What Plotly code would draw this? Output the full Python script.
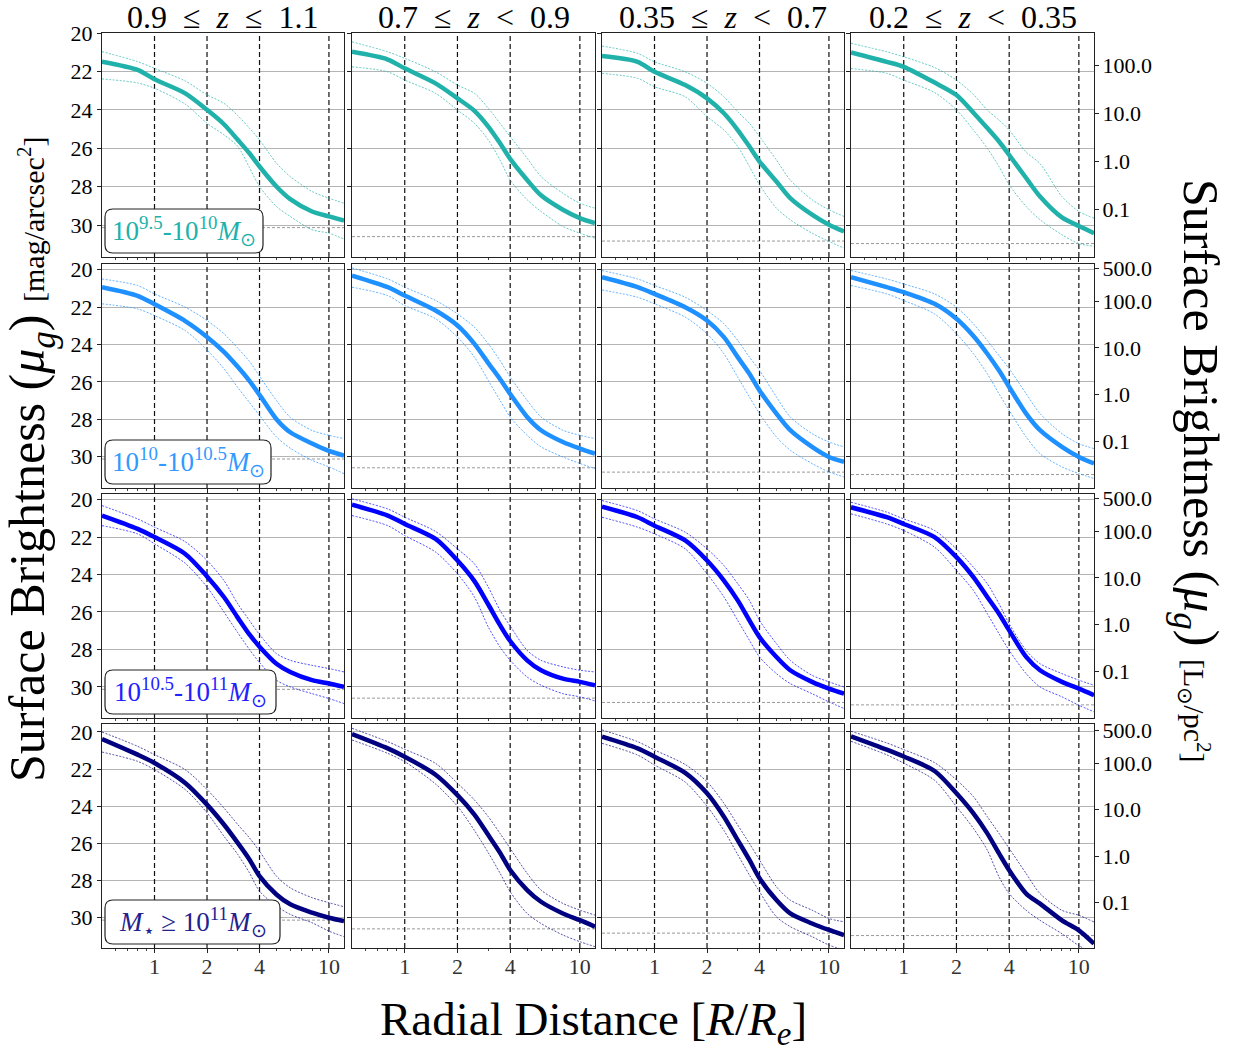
import math
import plotly.graph_objects as go

# ---------------- data ----------------
R = [0.5, 0.8, 1, 1.5, 2, 2.5, 3, 3.5, 4, 5, 6, 8, 10, 12.2]

SP = "\u2002"
COL_TITLES = ["0.9" + SP + "≤" + SP + "<i>z</i>" + SP + "≤" + SP + "1.1",
              "0.7" + SP + "≤" + SP + "<i>z</i>" + SP + "<" + SP + "0.9",
              "0.35" + SP + "≤" + SP + "<i>z</i>" + SP + "<" + SP + "0.7",
              "0.2" + SP + "≤" + SP + "<i>z</i>" + SP + "<" + SP + "0.35"]
ROW_LABELS = ["10<sup>9.5</sup>-10<sup>10</sup><i>M</i><sub>⊙</sub>",
              "10<sup>10</sup>-10<sup>10.5</sup><i>M</i><sub>⊙</sub>",
              "10<sup>10.5</sup>-10<sup>11</sup><i>M</i><sub>⊙</sub>",
              "<i>M</i><sub>⋆</sub> ≥ 10<sup>11</sup><i>M</i><sub>⊙</sub>"]
ROW_COLORS = ["#20b2aa", "#1e90ff", "#0000ff", "#000080"]
LABEL_COLORS = ["#20b2aa", "#3399ff", "#2222ff", "#22228f"]

# median profiles  mu_g [mag/arcsec^2], one list per column
MED_ROW1 = [
    [21.49, 21.92, 22.41, 23.14, 24.0, 24.75, 25.56, 26.26, 26.95, 27.99, 28.65, 29.29, 29.55, 29.77],
    [20.98, 21.38, 21.84, 22.62, 23.40, 24.05, 24.87, 25.74, 26.55, 27.65, 28.45, 29.2, 29.64, 29.9],
    [21.2, 21.5, 22.02, 22.71, 23.40, 24.18, 25.05, 25.91, 26.69, 27.73, 28.6, 29.46, 29.98, 30.33],
    [21.01, 21.5, 21.76, 22.58, 23.23, 24.15, 24.95, 25.65, 26.35, 27.55, 28.51, 29.6, 30.05, 30.42],
]
HI_ROW1 = [
    [20.97, 21.49, 21.84, 22.5, 23.22, 23.66, 24.3, 24.95, 25.56, 26.78, 27.47, 28.25, 28.6, 28.86],
    [20.46, 20.98, 21.32, 22.02, 22.71, 23.14, 23.92, 24.7, 25.39, 26.52, 27.47, 28.34, 28.86, 29.12],
    [20.68, 21.06, 21.5, 22.02, 22.62, 23.32, 24.1, 24.7, 25.39, 26.61, 27.65, 28.68, 29.2, 29.55],
    [20.54, 20.98, 21.24, 21.8, 22.45, 23.2, 24.01, 24.53, 25.05, 26.2, 26.8, 28.51, 29.29, 29.64],
]
LO_ROW1 = [
    [22.39, 22.6, 22.88, 23.7, 24.7, 25.3, 25.9, 27.0, 27.99, 29.03, 29.55, 30.24, 30.42, 30.73],
    [21.76, 22.02, 22.45, 23.14, 24.01, 24.7, 25.57, 26.61, 27.65, 28.68, 29.29, 30.07, 30.42, 30.68],
    [22.1, 22.36, 22.8, 23.32, 24.35, 25.05, 25.91, 26.95, 27.9, 29.12, 29.72, 30.42, 30.85, 31.2],
    [21.85, 22.1, 22.45, 23.1, 24.0, 25.05, 26.0, 26.95, 27.9, 29.03, 29.72, 30.5, 30.96, 31.1],
]

MED_ROW2 = [
    [20.94, 21.4, 21.85, 22.75, 23.6, 24.4, 25.2, 25.95, 26.7, 28.0, 28.7, 29.3, 29.7, 29.95],
    [20.32, 20.94, 21.39, 22.19, 22.99, 23.97, 25.0, 25.85, 26.65, 27.88, 28.59, 29.22, 29.57, 29.84],
    [20.41, 20.94, 21.3, 22.01, 22.72, 23.61, 24.68, 25.57, 26.46, 27.7, 28.59, 29.48, 30.02, 30.28],
    [20.41, 20.94, 21.21, 21.83, 22.63, 23.55, 24.5, 25.4, 26.28, 27.7, 28.59, 29.48, 30.02, 30.37],
]
HI_ROW2 = [
    [20.5, 20.85, 21.3, 22.01, 22.72, 23.43, 24.2, 24.9, 25.7, 27.0, 27.9, 28.6, 28.86, 29.04],
    [19.91, 20.5, 20.94, 21.65, 22.37, 23.08, 23.97, 24.86, 25.75, 26.99, 27.88, 28.59, 28.86, 29.04],
    [20.05, 20.5, 20.85, 21.48, 22.19, 22.9, 23.79, 24.68, 25.39, 26.81, 27.88, 28.77, 29.22, 29.48],
    [20.05, 20.5, 20.77, 21.3, 22.01, 22.9, 23.79, 24.6, 25.3, 26.64, 27.7, 28.77, 29.31, 29.57],
]
LO_ROW2 = [
    [21.83, 22.1, 22.46, 23.26, 24.3, 25.3, 26.3, 27.1, 27.8, 28.95, 29.55, 30.2, 30.55, 30.91],
    [20.94, 21.39, 21.92, 22.63, 23.61, 24.68, 25.93, 26.99, 27.88, 28.86, 29.48, 30.02, 30.37, 30.64],
    [21.09, 21.48, 21.83, 22.54, 23.43, 24.5, 25.75, 26.81, 27.7, 28.95, 29.66, 30.37, 30.82, 31.09],
    [20.85, 21.3, 21.65, 22.37, 23.43, 24.5, 25.57, 26.64, 27.53, 28.95, 29.84, 30.55, 30.91, 31.17],
]

MED_ROW3 = [
    [20.85, 21.56, 22.0, 22.9, 24.1, 25.2, 26.3, 27.2, 27.85, 28.76, 29.2, 29.64, 29.82, 30.0],
    [20.27, 20.85, 21.3, 22.1, 23.25, 24.35, 25.6, 26.7, 27.55, 28.58, 29.11, 29.56, 29.73, 29.91],
    [20.37, 20.94, 21.39, 22.18, 23.25, 24.32, 25.38, 26.45, 27.34, 28.4, 29.11, 29.73, 30.09, 30.36],
    [20.41, 20.94, 21.3, 22.0, 23.07, 24.14, 25.2, 26.09, 26.98, 28.4, 29.11, 29.73, 30.09, 30.44],
]
HI_ROW3 = [
    [20.32, 21.03, 21.47, 22.25, 23.25, 24.32, 25.56, 26.45, 27.2, 28.22, 28.58, 28.85, 29.02, 29.2],
    [19.96, 20.5, 20.94, 21.7, 22.63, 23.43, 24.67, 25.91, 26.75, 28.05, 28.58, 28.93, 29.11, 29.2],
    [20.05, 20.59, 21.03, 21.74, 22.63, 23.52, 24.49, 25.38, 26.45, 27.69, 28.58, 29.38, 29.73, 30.0],
    [20.14, 20.67, 21.03, 21.65, 22.63, 23.61, 24.49, 25.56, 26.63, 28.05, 28.76, 29.29, 29.64, 29.91],
]
LO_ROW3 = [
    [21.39, 21.83, 22.36, 23.4, 24.67, 26.0, 27.1, 28.0, 28.7, 29.64, 30.0, 30.36, 30.62, 30.89],
    [20.85, 21.39, 21.92, 22.8, 23.96, 25.2, 26.8, 27.87, 28.58, 29.47, 29.91, 30.36, 30.53, 30.75],
    [20.94, 21.47, 21.83, 22.63, 23.96, 25.2, 26.45, 27.51, 28.4, 29.29, 29.82, 30.36, 30.8, 31.15],
    [20.76, 21.3, 21.65, 22.54, 23.78, 24.85, 26.09, 27.16, 28.05, 29.29, 30.0, 30.53, 30.98, 31.33],
]

MED_ROW4 = [
    [20.38, 21.22, 21.67, 22.74, 23.91, 24.98, 25.97, 26.86, 27.76, 28.75, 29.28, 29.73, 30.0, 30.18],
    [20.11, 20.88, 21.33, 22.3, 23.4, 24.45, 25.55, 26.5, 27.43, 28.51, 29.14, 29.77, 30.13, 30.48],
    [20.25, 20.88, 21.33, 22.2, 23.3, 24.56, 25.82, 26.89, 27.88, 29.05, 29.77, 30.31, 30.66, 30.93],
    [20.23, 20.95, 21.32, 22.1, 23.3, 24.38, 25.46, 26.54, 27.44, 28.7, 29.24, 30.14, 30.68, 31.4],
]
HI_ROW4 = [
    [20.0, 20.77, 21.22, 22.03, 23.1, 24.09, 24.98, 25.7, 26.42, 27.76, 28.39, 28.92, 29.19, 29.41],
    [19.8, 20.52, 20.93, 21.69, 22.76, 23.66, 24.56, 25.46, 26.27, 27.61, 28.51, 29.23, 29.59, 29.86],
    [19.89, 20.52, 20.97, 21.75, 22.68, 23.84, 25.01, 26.0, 26.89, 28.33, 29.05, 29.59, 30.04, 30.22],
    [19.96, 20.59, 20.95, 21.65, 22.58, 23.48, 24.56, 25.46, 26.27, 27.62, 28.7, 29.6, 29.87, 30.23],
]
LO_ROW4 = [
    [21.08, 21.58, 22.03, 23.1, 24.35, 25.61, 26.59, 27.58, 28.57, 29.37, 29.82, 30.27, 30.72, 31.02],
    [20.43, 21.15, 21.6, 22.8, 24.0, 25.3, 26.5, 27.6, 28.6, 29.77, 30.31, 30.93, 31.29, 31.56],
    [20.61, 21.24, 21.78, 22.7, 24.0, 25.3, 26.6, 27.7, 28.6, 29.95, 30.48, 31.02, 31.47, 31.74],
    [20.5, 21.23, 21.68, 22.6, 24.02, 25.19, 26.36, 27.8, 28.7, 29.6, 30.14, 30.86, 31.5, 31.95],
]

MED = [MED_ROW1, MED_ROW2, MED_ROW3, MED_ROW4]
HI = [HI_ROW1, HI_ROW2, HI_ROW3, HI_ROW4]
LO = [LO_ROW1, LO_ROW2, LO_ROW3, LO_ROW4]

VLINES = [1, 2, 4, 10]                      # reference radii
LIMITS = [30.13, 30.6, 30.83, 30.96]        # surface-brightness limit per column
Y_TICKS = [20, 22, 24, 26, 28, 30]
X_TICKS = [1, 2, 4, 10]
X_MINOR = [0.6, 0.7, 0.8, 0.9, 3, 5, 6, 7, 8, 9]
LUM_TICKS = [500, 100, 10, 1, 0.1]
LUM_LABELS = ["500.0", "100.0", "10.0", "1.0", "0.1"]
MSUN_G = 5.11

# ---------------- layout geometry (pixels) ----------------
W, H = 1240, 1063
COLS_PX = [(102, 344), (352, 595), (602, 844), (851, 1094)]
ROWS_PX = [(33, 257), (264, 488), (494, 718), (724, 948)]
BOX_RIGHT = [263, 271, 276, 280]            # right edge of the label boxes
BOX_H = 44
Y_RANGES = [(31.66, 20.0), (31.68, 19.70), (31.66, 19.70), (31.63, 19.57)]
X_RANGE = [math.log10(0.5), math.log10(12.2)]

FONT = "Liberation Serif"

def mu_from_lum(L):
    return MSUN_G + 21.572 - 2.5 * math.log10(L)

def px(x):
    return x / W

def py(y):
    return 1 - y / H

def rounded_box(x0, y0, x1, y1, rad):
    X0, X1 = px(x0), px(x1)
    Y0, Y1 = py(y1), py(y0)   # paper coords: Y0 bottom, Y1 top
    rx, ry = rad / W, rad / H
    return (f"M {X0+rx},{Y0} L {X1-rx},{Y0} Q {X1},{Y0} {X1},{Y0+ry} "
            f"L {X1},{Y1-ry} Q {X1},{Y1} {X1-rx},{Y1} L {X0+rx},{Y1} "
            f"Q {X0},{Y1} {X0},{Y1-ry} L {X0},{Y0+ry} Q {X0},{Y0} {X0+rx},{Y0} Z")

fig = go.Figure()
layout = dict(width=W, height=H, margin=dict(l=0, r=0, t=0, b=0, autoexpand=False),
              paper_bgcolor="white", plot_bgcolor="white", showlegend=False,
              font=dict(family=FONT, color="black"))

annotations = []
shapes = []

for r in range(4):
    for c in range(4):
        k = r * 4 + c + 1
        sfx = "" if k == 1 else str(k)
        xa, ya = "x" + sfx, "y" + sfx
        col = ROW_COLORS[r]
        yr = Y_RANGES[r]
        # limit line
        fig.add_trace(go.Scatter(x=[R[0], R[-1]], y=[LIMITS[c], LIMITS[c]], mode="lines",
                                 line=dict(color="#9a9a9a", width=1, dash="3px,2px"),
                                 xaxis=xa, yaxis=ya, hoverinfo="skip"))
        # reference radii
        for v in VLINES:
            fig.add_trace(go.Scatter(x=[v, v], y=[yr[0], yr[1]], mode="lines",
                                     line=dict(color="#111111", width=1.2, dash="5px,3px"),
                                     xaxis=xa, yaxis=ya, hoverinfo="skip"))
        # bands
        for band in (HI[r][c], LO[r][c]):
            fig.add_trace(go.Scatter(x=R, y=band, mode="lines",
                                     line=dict(color=col, width=0.8, dash="2px,1.5px", shape="spline", smoothing=0.8),
                                     opacity=0.85, xaxis=xa, yaxis=ya, hoverinfo="skip"))
        # median
        fig.add_trace(go.Scatter(x=R, y=MED[r][c], mode="lines",
                                 line=dict(color=col, width=4.5, shape="spline", smoothing=0.8),
                                 xaxis=xa, yaxis=ya, hoverinfo="skip"))

        x0, x1 = COLS_PX[c]
        y0, y1 = ROWS_PX[r]
        layout["xaxis" + sfx] = dict(
            domain=[px(x0), px(x1)], anchor=ya, type="log", range=X_RANGE, automargin=False,
            tickmode="array", tickvals=X_TICKS, ticktext=[str(t) for t in X_TICKS],
            showticklabels=(r == 3), ticks="outside", ticklen=4, tickcolor="#222",
            ticklabelstandoff=-6,
            minor=dict(tickmode="array", tickvals=X_MINOR, ticks="outside", ticklen=2, tickcolor="#444"),
            showgrid=False, zeroline=False, showline=True, linecolor="#222", linewidth=1.3,
            mirror=True, tickfont=dict(size=22, family=FONT, color="#333"))
        layout["yaxis" + sfx] = dict(
            domain=[py(y1), py(y0)], anchor=xa, range=list(yr), autorange=False,
            automargin=False, tickmode="array", tickvals=Y_TICKS, showticklabels=(c == 0),
            ticks="outside", ticklen=4, tickcolor="#222",
            showgrid=True, gridcolor="#b4b4b4", gridwidth=1, zeroline=False,
            showline=True, linecolor="#222", linewidth=1.3, mirror=True,
            tickfont=dict(size=22, family=FONT, color="black"))

        if c == 3:
            # secondary luminosity axis on the right
            sk = 17 + r
            fig.add_trace(go.Scatter(x=R, y=MED[r][c], mode="lines", line=dict(width=0, color=col),
                                     opacity=0, xaxis=xa, yaxis="y" + str(sk), hoverinfo="skip"))
            layout["yaxis" + str(sk)] = dict(
                overlaying=ya, anchor=xa, side="right", range=list(yr), autorange=False,
                automargin=False, tickmode="array",
                tickvals=[mu_from_lum(L) for L in LUM_TICKS], ticktext=LUM_LABELS,
                ticks="outside", ticklen=4, tickcolor="#222", showgrid=False, zeroline=False,
                ticklabelstandoff=-1,
                showline=False, tickfont=dict(size=22, family=FONT, color="black"))

        if c == 0:
            bx0, bx1 = x0 + 3, BOX_RIGHT[r]
            by1 = y1 - 4
            by0 = by1 - BOX_H
            shapes.append(dict(type="path", xref="paper", yref="paper",
                               path=rounded_box(bx0, by0, bx1, by1, 8),
                               fillcolor="white", line=dict(color="#222", width=1.2), layer="above"))
            annotations.append(dict(
                xref="paper", yref="paper", x=px((bx0 + bx1) / 2), y=py((by0 + by1) / 2),
                xanchor="center", yanchor="middle", showarrow=False, text=ROW_LABELS[r],
                font=dict(size=27, family=FONT, color=LABEL_COLORS[r])))
        if r == 0:
            annotations.append(dict(
                xref="paper", yref="paper", x=px((x0 + x1) / 2), y=py(17),
                xanchor="center", yanchor="middle", showarrow=False, text=COL_TITLES[c],
                font=dict(size=32, family=FONT, color="black")))

annotations.append(dict(
    xref="paper", yref="paper", x=px(31), y=py(460), xanchor="center", yanchor="middle",
    showarrow=False, textangle=-90,
    text="Surface Brightness (<i>μ<sub>g</sub></i>) <span style='font-size:30px'>[mag/arcsec<sup>2</sup>]</span>",
    font=dict(size=50, family=FONT, color="black")))
annotations.append(dict(
    xref="paper", yref="paper", x=px(1197), y=py(470), xanchor="center", yanchor="middle",
    showarrow=False, textangle=90,
    text="Surface Brightness (<i>μ<sub>g</sub></i>) <span style='font-size:30px'>[L<sub>⊙</sub>/pc<sup>2</sup>]</span>",
    font=dict(size=50, family=FONT, color="black")))
annotations.append(dict(
    xref="paper", yref="paper", x=px(593), y=py(1022), xanchor="center", yanchor="middle",
    showarrow=False,
    text="Radial Distance [<i>R</i>/<i>R<sub>e</sub></i>]",
    font=dict(size=47, family=FONT, color="black")))

layout["annotations"] = annotations
layout["shapes"] = shapes
fig.update_layout(**layout)
fig.write_html("out.html", config={"displayModeBar": False},
               post_script="document.body.style.margin='0px';document.body.style.overflow='hidden';")
